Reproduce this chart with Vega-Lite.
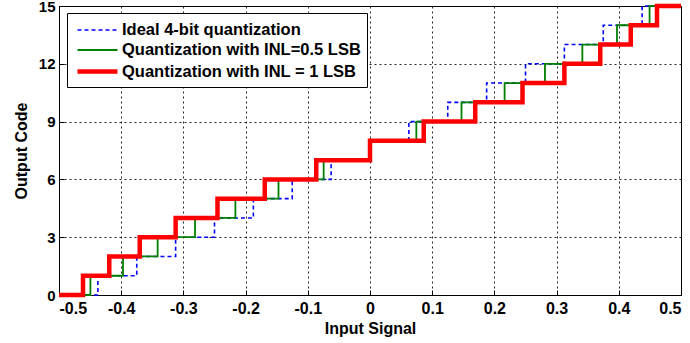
{
  "$schema": "https://vega.github.io/schema/vega-lite/v6.json",
  "width": 622,
  "height": 289,
  "autosize": {"type": "none"},
  "padding": {"left": 59, "top": 6, "right": 9, "bottom": 48},
  "background": "white",
  "view": {"stroke": "black", "strokeWidth": 1},
  "config": {
    "font": "Liberation Sans",
    "axis": {
      "labelFont": "Liberation Sans",
      "labelFontSize": 16,
      "labelFontWeight": "bold",
      "labelColor": "black",
      "titleFont": "Liberation Sans",
      "titleFontSize": 16,
      "titleFontWeight": "bold",
      "titleColor": "black",
      "domain": false,
      "tickColor": "black",
      "tickSize": -5,
      "grid": true,
      "gridColor": "black",
      "gridDash": [2, 3],
      "gridOpacity": 0.85,
      "gridWidth": 1
    },
    "legend": {
      "labelFont": "Liberation Sans",
      "labelFontSize": 16.5,
      "labelFontWeight": "bold",
      "labelColor": "black",
      "labelLimit": 400,
      "orient": "none",
      "legendX": 8,
      "legendY": 7,
      "strokeColor": "black",
      "fillColor": "white",
      "padding": 6,
      "rowPadding": -1,
      "symbolType": "M-1,0H3",
      "symbolSize": 400,
      "symbolOffset": 2,
      "labelOffset": 22
    }
  },
  "data": {
    "values": [
      {"series": "Ideal 4-bit quantization", "x": -0.5, "y": 0},
      {"series": "Ideal 4-bit quantization", "x": -0.4375, "y": 1},
      {"series": "Ideal 4-bit quantization", "x": -0.375, "y": 2},
      {"series": "Ideal 4-bit quantization", "x": -0.3125, "y": 3},
      {"series": "Ideal 4-bit quantization", "x": -0.25, "y": 4},
      {"series": "Ideal 4-bit quantization", "x": -0.1875, "y": 5},
      {"series": "Ideal 4-bit quantization", "x": -0.125, "y": 6},
      {"series": "Ideal 4-bit quantization", "x": -0.0625, "y": 7},
      {"series": "Ideal 4-bit quantization", "x": 0, "y": 8},
      {"series": "Ideal 4-bit quantization", "x": 0.0625, "y": 9},
      {"series": "Ideal 4-bit quantization", "x": 0.125, "y": 10},
      {"series": "Ideal 4-bit quantization", "x": 0.1875, "y": 11},
      {"series": "Ideal 4-bit quantization", "x": 0.25, "y": 12},
      {"series": "Ideal 4-bit quantization", "x": 0.3125, "y": 13},
      {"series": "Ideal 4-bit quantization", "x": 0.375, "y": 14},
      {"series": "Ideal 4-bit quantization", "x": 0.4375, "y": 15},
      {"series": "Ideal 4-bit quantization", "x": 0.5, "y": 15},
      {"series": "Quantization with INL=0.5 LSB", "x": -0.5, "y": 0},
      {"series": "Quantization with INL=0.5 LSB", "x": -0.4495, "y": 1},
      {"series": "Quantization with INL=0.5 LSB", "x": -0.3971, "y": 2},
      {"series": "Quantization with INL=0.5 LSB", "x": -0.3414, "y": 3},
      {"series": "Quantization with INL=0.5 LSB", "x": -0.2813, "y": 4},
      {"series": "Quantization with INL=0.5 LSB", "x": -0.2164, "y": 5},
      {"series": "Quantization with INL=0.5 LSB", "x": -0.1471, "y": 6},
      {"series": "Quantization with INL=0.5 LSB", "x": -0.0745, "y": 7},
      {"series": "Quantization with INL=0.5 LSB", "x": 0, "y": 8},
      {"series": "Quantization with INL=0.5 LSB", "x": 0.0745, "y": 9},
      {"series": "Quantization with INL=0.5 LSB", "x": 0.1471, "y": 10},
      {"series": "Quantization with INL=0.5 LSB", "x": 0.2164, "y": 11},
      {"series": "Quantization with INL=0.5 LSB", "x": 0.2813, "y": 12},
      {"series": "Quantization with INL=0.5 LSB", "x": 0.3414, "y": 13},
      {"series": "Quantization with INL=0.5 LSB", "x": 0.3971, "y": 14},
      {"series": "Quantization with INL=0.5 LSB", "x": 0.4495, "y": 15},
      {"series": "Quantization with INL=0.5 LSB", "x": 0.5, "y": 15},
      {"series": "Quantization with INL = 1 LSB", "x": -0.5, "y": 0},
      {"series": "Quantization with INL = 1 LSB", "x": -0.4614, "y": 1},
      {"series": "Quantization with INL = 1 LSB", "x": -0.4192, "y": 2},
      {"series": "Quantization with INL = 1 LSB", "x": -0.3702, "y": 3},
      {"series": "Quantization with INL = 1 LSB", "x": -0.3125, "y": 4},
      {"series": "Quantization with INL = 1 LSB", "x": -0.2452, "y": 5},
      {"series": "Quantization with INL = 1 LSB", "x": -0.1692, "y": 6},
      {"series": "Quantization with INL = 1 LSB", "x": -0.0864, "y": 7},
      {"series": "Quantization with INL = 1 LSB", "x": 0, "y": 8},
      {"series": "Quantization with INL = 1 LSB", "x": 0.0864, "y": 9},
      {"series": "Quantization with INL = 1 LSB", "x": 0.1692, "y": 10},
      {"series": "Quantization with INL = 1 LSB", "x": 0.2452, "y": 11},
      {"series": "Quantization with INL = 1 LSB", "x": 0.3125, "y": 12},
      {"series": "Quantization with INL = 1 LSB", "x": 0.3702, "y": 13},
      {"series": "Quantization with INL = 1 LSB", "x": 0.4192, "y": 14},
      {"series": "Quantization with INL = 1 LSB", "x": 0.4614, "y": 15},
      {"series": "Quantization with INL = 1 LSB", "x": 0.5, "y": 15}
    ]
  },
  "mark": {"type": "line", "interpolate": "step-after", "clip": false},
  "encoding": {
    "x": {
      "field": "x",
      "type": "quantitative",
      "scale": {"domain": [-0.5, 0.5], "nice": false, "zero": false},
      "axis": {
        "values": [-0.5, -0.4, -0.3, -0.2, -0.1, 0, 0.1, 0.2, 0.3, 0.4, 0.5],
        "labelExpr": "datum.value == 0 ? '0' : (datum.value < 0 ? '-' : '') + format(abs(datum.value), '.1f')",
        "labelPadding": 10,
        "title": "Input Signal",
        "titlePadding": 4
      }
    },
    "y": {
      "field": "y",
      "type": "quantitative",
      "scale": {"domain": [0, 15], "nice": false},
      "axis": {
        "values": [0, 3, 6, 9, 12, 15],
        "labelPadding": 9,
        "labelFontSize": 15,
        "title": "Output Code",
        "titlePadding": 9
      }
    },
    "color": {
      "field": "series",
      "type": "nominal",
      "scale": {
        "domain": ["Ideal 4-bit quantization", "Quantization with INL=0.5 LSB", "Quantization with INL = 1 LSB"],
        "range": ["#0000FF", "#008000", "#FF0000"]
      },
      "legend": {"title": null}
    },
    "strokeDash": {
      "field": "series",
      "type": "nominal",
      "scale": {
        "domain": ["Ideal 4-bit quantization", "Quantization with INL=0.5 LSB", "Quantization with INL = 1 LSB"],
        "range": [[4, 3], [1, 0], [1, 0]]
      },
      "legend": {"title": null}
    },
    "strokeWidth": {
      "field": "series",
      "type": "ordinal",
      "scale": {
        "type": "ordinal",
        "domain": ["Ideal 4-bit quantization", "Quantization with INL=0.5 LSB", "Quantization with INL = 1 LSB"],
        "range": [1.6, 1.8, 4.5]
      },
      "legend": {"title": null}
    }
  }
}
